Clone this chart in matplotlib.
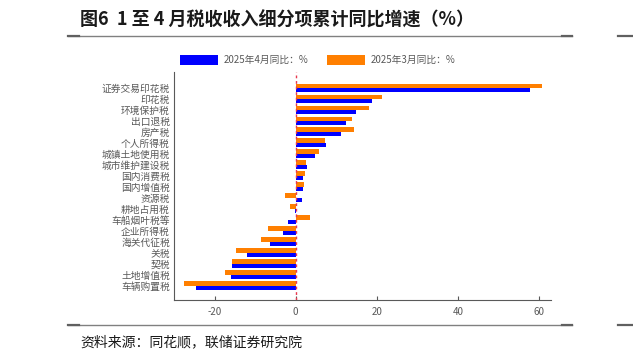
import numpy as np
import matplotlib.pyplot as plt
from matplotlib.lines import Line2D

plt.rcParams['font.family'] = ['Noto Sans CJK SC', 'DejaVu Sans']

# Data (top to bottom)
categories = ['证券交易印花税', '印花税', '环境保护税', '出口退税', '房产税', '个人所得税',
              '城镇土地使用税', '城市维护建设税', '国内消费税', '国内增值税', '资源税',
              '耕地占用税', '车船烟叶税等', '企业所得税', '海关代征税', '关税', '契税',
              '土地增值税', '车辆购置税']
apr_2025 = [57.8, 18.9, 14.8, 12.5, 11.3, 7.4, 4.8, 2.8, 1.8, 1.7, 1.6,
            -0.2, -1.9, -3.0, -6.4, -12.0, -15.6, -16.0, -24.6]
mar_2025 = [60.7, 21.2, 18.1, 14.0, 14.3, 7.2, 5.8, 2.5, 2.2, 2.1, -2.5,
            -1.5, 3.5, -6.8, -8.6, -14.8, -15.7, -17.4, -27.6]
xticks = [-20, 0, 20, 40, 60]

grey = '#595959'
fig = plt.figure(figsize=(6.33, 3.59), dpi=100)
ax = fig.add_axes([174/633, 1-300/359, 377/633, 228/359])

y = np.arange(len(categories))
h = 0.4
ax.barh(y + h/2, apr_2025, height=h, color='#0000FF', label='2025年4月同比：%')
ax.barh(y - h/2, mar_2025, height=h, color='#FF7F00', label='2025年3月同比：%')

ax.axvline(0, color='#E8384F', lw=1, ls=(0, (2, 2)))

ax.set_xlim(-30, 63)
ax.set_ylim(len(categories) - 1 + 1.3, -1.45)
ax.set_yticks(y)
ax.set_yticklabels(categories, fontsize=7, color=grey)
ax.set_xticks(xticks)
ax.set_xticklabels([str(t) for t in xticks], fontsize=7, color=grey)
ax.tick_params(axis='y', length=0, pad=3)
ax.tick_params(axis='x', direction='in', length=3, color=grey, pad=5)
for s in ['top', 'right']:
    ax.spines[s].set_visible(False)
for s in ['left', 'bottom']:
    ax.spines[s].set_color(grey)
    ax.spines[s].set_linewidth(0.8)

fig.legend(loc='center', bbox_to_anchor=(318/633, 1-60/359), ncol=2, frameon=False,
           fontsize=7, handlelength=3.9, handleheight=1.25, handletextpad=0.6,
           columnspacing=1.9, labelcolor=grey)

# title / source and frame lines
fig.text(80/633, 1-20/359, '图6  1 至 4 月税收收入细分项累计同比增速（%）', fontsize=13,
         fontweight='bold', va='center', ha='left', color='#1a1a1a')
fig.text(80/633, 1-342/359, '资料来源：同花顺，联储证券研究院', fontsize=10,
         va='center', ha='left', color='#1a1a1a')
for yy in [36, 325]:
    fig.add_artist(Line2D([68/633, 572/633], [1-yy/359]*2, color='#808080', lw=1))
    fig.add_artist(Line2D([68/633, 79/633], [1-yy/359]*2, color='#606060', lw=1.6))
    fig.add_artist(Line2D([562/633, 572/633], [1-yy/359]*2, color='#606060', lw=1.6))
    fig.add_artist(Line2D([618/633, 1], [1-yy/359]*2, color='#606060', lw=1.6))

fig.savefig('out.png', dpi=100)
